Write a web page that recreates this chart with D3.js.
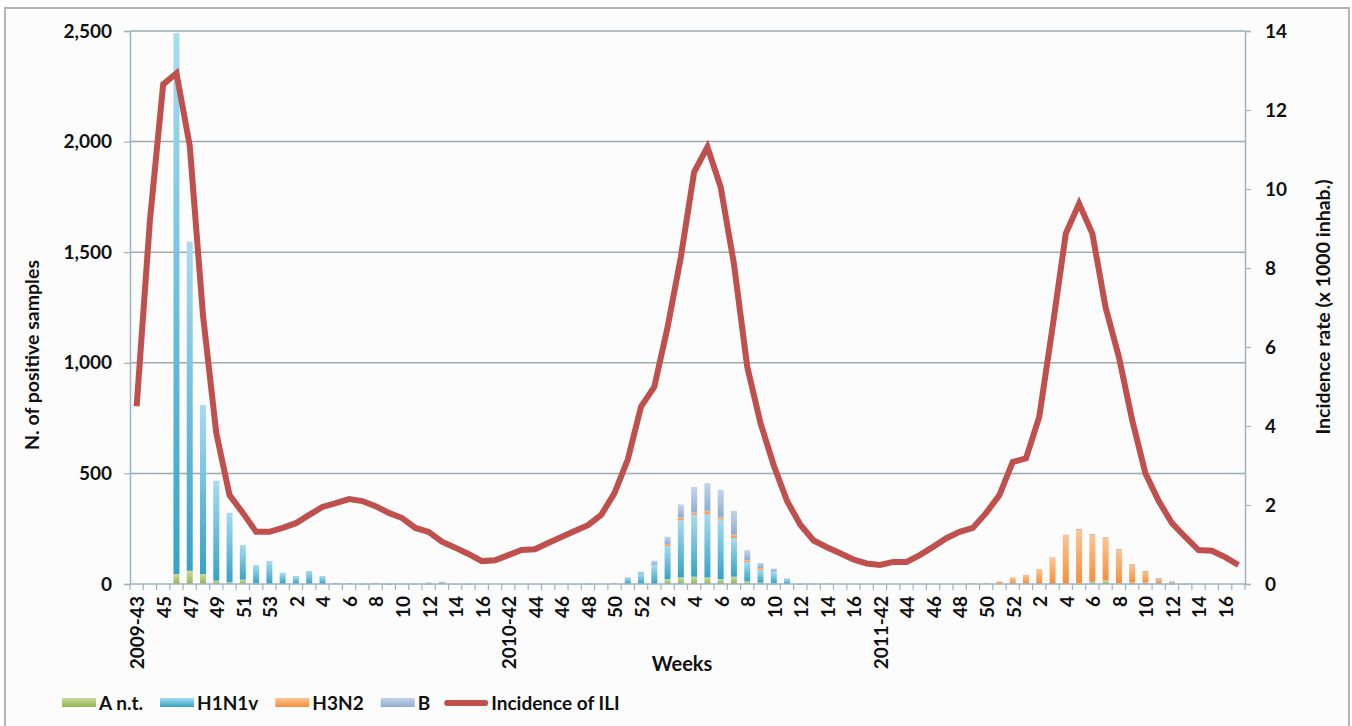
<!DOCTYPE html>
<html>
<head>
<meta charset="utf-8">
<script src="https://cdn.jsdelivr.net/npm/d3@7"></script>
<style>
  html, body { margin: 0; padding: 0; background: #fff; }
  svg { display: block; font-family: Lato, "Open Sans", sans-serif; font-weight: bold; }
</style>
</head>
<body>
<svg id="chart" width="1352" height="726"></svg>
<script>
// week labels (3 seasons, 28 weeks each)
const weeks = [
  "2009-43","44","45","46","47","48","49","50","51","52","53",
  "1","2","3","4","5","6","7","8","9","10","11","12","13","14","15","16","17",
  "2010-42","43","44","45","46","47","48","49","50","51","52",
  "1","2","3","4","5","6","7","8","9","10","11","12","13","14","15","16","17",
  "2011-42","43","44","45","46","47","48","49","50","51","52",
  "1","2","3","4","5","6","7","8","9","10","11","12","13","14","15","16","17"
];

// positive samples by type
const aNt = [
  0,0,0,45,60,45,15,8,20,2,0,
  0,0,0,0,0,0,0,0,0,0,0,0,0,0,0,0,0,
  0,0,0,0,0,0,0,0,0,0,0,
  0,22,30,33,30,22,33,12,6,2,0,0,0,0,0,0,0,
  0,0,0,0,0,0,0,0,0,0,0,
  0,0,0,0,2,10,16,4,2,2,0,0,0,0,0,0,0
];
const h1n1v = [
  0,0,0,2445,1488,764,452,314,156,84,104,
  51,36,59,36,3,4,2,4,1,3,2,1,0,2,1,0,0,
  0,0,0,0,0,1,2,0,0,28,46,
  85,150,258,280,286,270,175,87,57,53,20,2,0,0,0,0,0,
  0,0,0,0,0,0,0,0,0,0,0,
  0,0,0,0,0,0,0,0,4,4,5,2,1,0,0,0,0
];
const h3n2 = [
  0,0,0,0,0,0,0,0,0,0,0,
  0,0,0,0,0,0,0,0,0,0,0,0,0,0,0,0,0,
  0,0,0,0,0,0,0,0,4,0,0,
  0,9,12,10,15,9,15,9,9,0,0,0,0,3,0,0,0,
  0,0,0,0,0,0,0,4,5,12,30,
  42,68,121,223,245,213,193,152,82,52,20,8,0,0,0,0,0
];
const bType = [
  0,0,0,0,0,0,0,0,0,0,0,
  0,0,0,0,2,0,1,0,1,0,1,7,11,0,0,0,0,
  0,0,0,0,0,0,0,0,0,2,10,
  20,33,60,116,125,124,108,45,23,15,6,1,2,0,0,0,0,
  0,0,0,0,0,0,0,0,0,0,0,
  0,0,0,0,3,4,3,2,2,2,2,2,2,0,0,0,0
];

// incidence of ILI (x 1000 inhab.)
const ili = [
  4.5,9.2,12.65,12.93,11.1,6.8,3.82,2.25,1.8,1.32,1.32,
  1.42,1.54,1.75,1.95,2.05,2.15,2.1,1.97,1.8,1.67,1.42,1.32,1.07,0.92,0.76,0.58,0.6,
  0.73,0.86,0.88,1.04,1.19,1.34,1.49,1.75,2.3,3.15,4.49,
  4.99,6.5,8.28,10.43,11.06,10.05,8.1,5.5,4.07,3.0,2.1,1.5,1.1,0.93,0.78,0.62,0.52,
  0.48,0.56,0.56,0.73,0.94,1.16,1.32,1.42,1.8,2.25,3.09,
  3.18,4.23,6.5,8.87,9.63,8.87,7.0,5.75,4.15,2.8,2.1,1.54,1.19,0.86,0.84,0.68,0.48
];

const types = ["A n.t.", "H1N1v", "H3N2", "B"];
const leftTicks = [0, 500, 1000, 1500, 2000, 2500];
const rightTicks = [0, 2, 4, 6, 8, 10, 12, 14];

const colors = {
  "A n.t.": ["#c9dca0", "#93b64f"],
  "H1N1v": ["#a8dcf0", "#35a3c6"],
  "H3N2": ["#fbc594", "#f58f3c"],
  "B": ["#c4d5ea", "#90acd3"]
};
const lineColor = "#c0504d";

const svg = d3.select("#chart");
const mLeft = 130, mRight = 1245, mTop = 31, mBottom = 584;

// frame
svg.append("rect")
  .attr("x", 5).attr("y", 8).attr("width", 1344).attr("height", 730)
  .attr("fill", "#fcfcfd").attr("stroke", "#b4b4b4").attr("stroke-width", 2);

const defs = svg.append("defs");
types.forEach((t, i) => {
  const g = defs.append("linearGradient")
    .attr("id", "grad" + i)
    .attr("x1", 0).attr("y1", 0).attr("x2", 0).attr("y2", 1);
  g.append("stop").attr("offset", "0%").attr("stop-color", colors[t][0]);
  g.append("stop").attr("offset", "100%").attr("stop-color", colors[t][1]);
});

const idx = d3.range(weeks.length);
const x = d3.scaleBand().domain(idx).range([mLeft, mRight])
  .paddingInner(0.55).paddingOuter(0.275);
const step = x.step();
const yL = d3.scaleLinear().domain([0, 2500]).range([mBottom, mTop]);
const yR = d3.scaleLinear().domain([0, 14]).range([mBottom, mTop]);

// gridlines
svg.append("g").selectAll("line")
  .data(leftTicks.slice(1))
  .enter().append("line")
  .attr("x1", mLeft).attr("x2", mRight)
  .attr("y1", d => yL(d)).attr("y2", d => yL(d))
  .attr("stroke", "#9eaab0").attr("stroke-width", 1.5);

// stacked bars
const rows = idx.map(i => ({ i, "A n.t.": aNt[i], "H1N1v": h1n1v[i], "H3N2": h3n2[i], "B": bType[i] }));
const series = d3.stack().keys(types)(rows);

svg.append("g").selectAll("g")
  .data(series)
  .enter().append("g")
  .attr("fill", (d, k) => `url(#grad${k})`)
  .selectAll("rect")
  .data(d => d.filter(s => s[1] - s[0] > 0))
  .enter().append("rect")
  .attr("x", d => x(d.data.i))
  .attr("width", x.bandwidth())
  .attr("y", d => yL(d[1]))
  .attr("height", d => Math.max(0.8, yL(d[0]) - yL(d[1])));

// ILI line
const line = d3.line()
  .x((d, i) => x(i) + x.bandwidth() / 2)
  .y(d => yR(d));

svg.append("path")
  .datum(ili)
  .attr("d", line)
  .attr("fill", "none")
  .attr("stroke", lineColor)
  .attr("stroke-width", 6)
  .attr("stroke-linejoin", "miter")
  .attr("stroke-miterlimit", 3);

// axes
const axisColor = "#9fb3c1";

const gL = svg.append("g").attr("transform", `translate(${mLeft},0)`)
  .call(d3.axisLeft(yL).tickValues(leftTicks).tickFormat(d3.format(",")).tickSize(6).tickPadding(12));
const gR = svg.append("g").attr("transform", `translate(${mRight},0)`)
  .call(d3.axisRight(yR).tickValues(rightTicks).tickSize(6).tickPadding(14));

// x axis: ticks at category boundaries
const gX = svg.append("g");
gX.append("line")
  .attr("x1", mLeft).attr("x2", mRight).attr("y1", mBottom).attr("y2", mBottom)
  .attr("stroke", axisColor).attr("stroke-width", 1.5);
gX.selectAll("line.tk")
  .data(d3.range(weeks.length + 1))
  .enter().append("line")
  .attr("class", "tk")
  .attr("x1", d => mLeft + d * step).attr("x2", d => mLeft + d * step)
  .attr("y1", mBottom).attr("y2", mBottom + 6)
  .attr("stroke", axisColor).attr("stroke-width", 1.2);
gX.selectAll("text")
  .data(idx.filter(i => i % 2 === 0))
  .enter().append("text")
  .attr("transform", i => `translate(${x(i) + x.bandwidth() / 2 + 1},${mBottom + 12}) rotate(-90)`)
  .attr("dy", "0.36em")
  .attr("text-anchor", "end")
  .attr("font-size", 19)
  .attr("fill", "#111")
  .text(i => weeks[i]);

[gL, gR].forEach(g => {
  g.select(".domain").attr("stroke", axisColor).attr("stroke-width", 1.5);
  g.selectAll(".tick line").attr("stroke", axisColor).attr("stroke-width", 1.2);
  g.selectAll(".tick text").attr("font-size", 19).attr("fill", "#111")
    .attr("font-family", "Lato, sans-serif").attr("font-weight", "bold");
});

// axis titles
svg.append("text")
  .attr("transform", "translate(32,355) rotate(-90)")
  .attr("dy", "0.35em").attr("text-anchor", "middle")
  .attr("font-size", 19.5).attr("fill", "#111")
  .text("N. of positive samples");
svg.append("text")
  .attr("transform", "translate(1323,307) rotate(-90)")
  .attr("dy", "0.35em").attr("text-anchor", "middle")
  .attr("font-size", 19.5).attr("fill", "#111")
  .text("Incidence rate (x 1000 inhab.)");
svg.append("text")
  .attr("x", 682).attr("y", 664)
  .attr("dy", "0.35em").attr("text-anchor", "middle")
  .attr("font-size", 20).attr("fill", "#111")
  .text("Weeks");

// legend
const legend = svg.append("g");
let lx = 62;
const ly = 703;
types.concat(["Incidence of ILI"]).forEach((t, k) => {
  if (k < types.length) {
    legend.append("rect")
      .attr("x", lx).attr("y", ly - 5).attr("width", 34).attr("height", 9)
      .attr("fill", `url(#grad${k})`);
  } else {
    legend.append("line")
      .attr("x1", lx).attr("x2", lx + 38).attr("y1", ly).attr("y2", ly)
      .attr("stroke", lineColor).attr("stroke-width", 6).attr("stroke-linecap", "round");
  }
  const sw = k < types.length ? 34 : 41;
  const txt = legend.append("text")
    .attr("x", lx + sw + 3).attr("y", ly)
    .attr("dy", "0.35em")
    .attr("font-size", 19).attr("fill", "#111")
    .text(t);
  lx += sw + 3 + txt.node().getComputedTextLength() + 17;
});
</script>
</body>
</html>
